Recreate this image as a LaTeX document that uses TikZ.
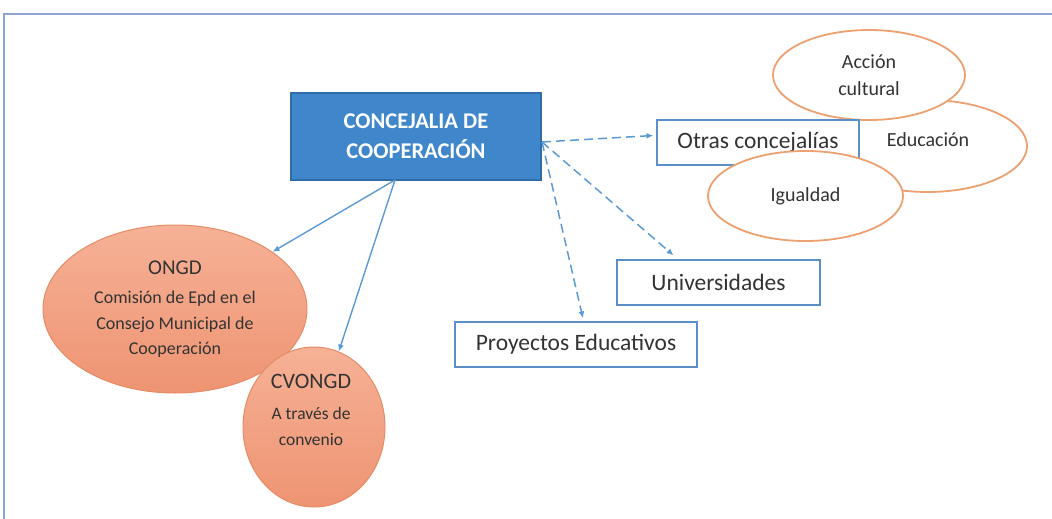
\documentclass[tikz,border=0pt]{standalone}
\usepackage{fontspec}
\setmainfont{Carlito}
\usetikzlibrary{shapes.geometric,arrows.meta,calc}
\definecolor{frameblue}{HTML}{8EA3D6}
\definecolor{arrowblue}{HTML}{5B9BD5}
\definecolor{boxfill}{HTML}{3F87CA}
\definecolor{boxedge}{HTML}{2F6CA8}
\definecolor{rectedge}{HTML}{5B8FC9}
\definecolor{ovaledge}{HTML}{EDA070}
\definecolor{orangetop}{HTML}{F6B196}
\definecolor{orangebot}{HTML}{EE9472}
\definecolor{orangeedge}{HTML}{E58C66}
\definecolor{txt}{HTML}{333333}
\tikzset{
  mainbox/.style={draw=boxedge, fill=boxfill, line width=1.2pt, minimum width=250pt, minimum height=87pt, inner sep=0pt, align=center, text=white, font=\fontsize{22.5}{30}\selectfont\bfseries},
  rectbox/.style={draw=rectedge, fill=white, line width=1.2pt, minimum height=45pt, inner sep=0pt, text=txt, font=\fontsize{23.5}{27}\selectfont},
  whiteoval/.style={ellipse, draw=ovaledge, fill=white, line width=1.8pt, inner sep=0pt, align=center, text=txt, font=\fontsize{20}{27}\selectfont},
  orangeoval/.style={ellipse, draw=orangeedge, top color=orangetop, bottom color=orangebot, line width=1pt, inner sep=0pt, align=center, text=txt},
  solidarrow/.style={draw=arrowblue, line width=1.4pt, -{Latex[length=7pt,width=6pt]}},
  dasharrow/.style={draw=arrowblue, line width=1.5pt, dash pattern=on 9pt off 5pt, -{Latex[length=7pt,width=6pt]}},
}
\begin{document}
\begin{tikzpicture}[x=1pt,y=-1pt]
\useasboundingbox (0,0) rectangle (1052,519);
% frame
\coordinate (fa) at (4,519);
\coordinate (fb) at (4,14);
\coordinate (fc) at (1052,14);
\draw[frameblue, line width=1.4pt] (fa) -- (fb) -- (fc);

% right cluster
\node[whiteoval, minimum width=199pt, minimum height=92pt] (educ) at (927.5,146) {};
\node[txt, font=\fontsize{20}{27}\selectfont] (eductxt) at (928,140) {Educación};
\node[whiteoval, minimum width=192pt, minimum height=90pt] (accion) at (869,75) {Acción\\cultural};
\node[rectbox, minimum width=202pt] (otras) at (758,142.5) {Otras concejalías};
\node[whiteoval, minimum width=195pt, minimum height=90pt] (igual) at (805.5,196) {Igualdad};

% main box
\node[mainbox] (conc) at (416,136.5) {CONCEJALIA DE\\COOPERACIÓN};

% other boxes
\node[rectbox, minimum width=203pt] (univ) at (718.5,282.5) {Universidades};
\node[rectbox, minimum width=242pt] (proy) at (576,344.5) {Proyectos Educativos};

% orange ovals
\node[orangeoval, minimum width=264pt, minimum height=168pt, font=\fontsize{18}{25.5}\selectfont] (ongd) at (175,309)
  {{\fontsize{21}{25}\selectfont ONGD}\\[4pt]Comisión de Epd en el\\Consejo Municipal de\\Cooperación};
\node[orangeoval, minimum width=142pt, minimum height=160pt] (cv) at (314,427) {};
\node[txt, align=center, font=\fontsize{17.5}{26}\selectfont] (cvtxt) at (311,410)
  {{\fontsize{22}{26}\selectfont CVONGD}\\[5pt]A través de\\convenio};

% connectors
\coordinate (ss) at (395,180);
\coordinate (ds) at (542,142);
\draw[solidarrow] (ss) -- (ongd);
\draw[solidarrow] (ss) -- (cv);
\draw[dasharrow] (ds) -- ($(otras.west)+(-3,-7)$);
\draw[dasharrow] (ds) -- ($(univ.north west)!0.28!(univ.north east)+(0,-4)$);
\draw[dasharrow] (ds) -- ($(proy.north)+(7,-3)$);
\end{tikzpicture}
\end{document}
